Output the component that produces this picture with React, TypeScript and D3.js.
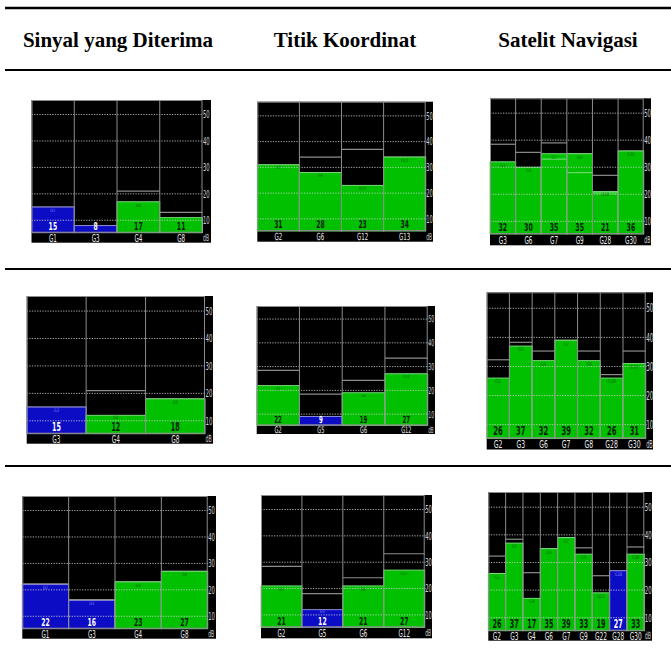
import React from "react";
import * as d3 from "d3";

// ---------- data ----------
const columnTitles = ["Sinyal yang Diterima", "Titik Koordinat", "Satelit Navigasi"];
const dbTicks = [10, 20, 30, 40, 50];
const dbDomain = [5.3, 55.5];

// row 1
const p1Sats = ["G1", "G3", "G4", "G8"];
const p1Snr = [15, 8, 17, 11];
const p1Peak = [15, 8, 21, 13];
const p1Used = [false, false, true, true];

const p2Sats = ["G2", "G6", "G12", "G13"];
const p2Snr = [31, 28, 23, 34];
const p2Peak = [31, 34, 37, 34];
const p2Used = [true, true, true, true];

const p3Sats = ["G3", "G6", "G7", "G9", "G28", "G30"];
const p3Snr = [32, 30, 35, 35, 21, 36];
const p3Peak = [38.5, 35.5, 39, 35, 27, 36];
const p3Inner = [null, null, 33, 28, 20.5, null];
const p3Used = [true, true, true, true, true, true];

// row 2
const p4Sats = ["G3", "G4", "G8"];
const p4Snr = [15, 12, 18];
const p4Peak = [15, 21, 18];
const p4Used = [false, true, true];

const p5Sats = ["G2", "G5", "G6", "G12"];
const p5Snr = [22, 9, 19, 27];
const p5Peak = [28.4, 18.4, 24.2, 33.6];
const p5Used = [true, false, true, true];

const p6Sats = ["G2", "G3", "G6", "G7", "G8", "G28", "G30"];
const p6Snr = [26, 37, 32, 39, 32, 26, 31];
const p6Peak = [32.3, 38.3, 35.3, 39, 35.3, 27.2, 35.3];
const p6Used = [true, true, true, true, true, true, true];

// row 3
const p7Sats = ["G1", "G3", "G4", "G8"];
const p7Snr = [22, 16, 23, 27];
const p7Peak = [22.3, 16.3, 23, 27];
const p7Used = [false, false, true, true];

const p8Sats = ["G2", "G5", "G6", "G12"];
const p8Snr = [21, 12, 21, 27];
const p8Peak = [28.4, 18.1, 24.1, 33.2];
const p8Used = [true, false, true, true];

const p9Sats = ["G2", "G3", "G4", "G6", "G7", "G9", "G22", "G28", "G30"];
const p9Snr = [26, 37, 17, 35, 39, 33, 19, 27, 33];
const p9Peak = [32.3, 38.4, 26.3, 35, 39, 35.3, 25.2, 27, 35.6];
const p9Used = [true, true, true, true, true, true, true, false, true];

// ---------- layout ----------
type Box = { l: number; pr: number; lr: number; t: number; b: number; sb: number };
const boxes: Box[] = [
  { l: 31.5, pr: 202.5, lr: 211, t: 100, b: 232.7, sb: 242.7 },
  { l: 257.3, pr: 425.7, lr: 433, t: 101.7, b: 231, sb: 241.7 },
  { l: 490, pr: 643.7, lr: 651, t: 98.3, b: 234, sb: 245.3 },
  { l: 26.7, pr: 205, lr: 213, t: 296, b: 433.7, sb: 443.7 },
  { l: 256.7, pr: 427.7, lr: 435, t: 306, b: 425.3, sb: 434 },
  { l: 486.7, pr: 645.7, lr: 653, t: 292.3, b: 438.3, sb: 449.5 },
  { l: 22.3, pr: 207.7, lr: 216, t: 496, b: 628.7, sb: 638.7 },
  { l: 261, pr: 424.7, lr: 432, t: 495, b: 627.3, sb: 638.3 },
  { l: 488.3, pr: 644.3, lr: 652, t: 492, b: 630.7, sb: 640.7 },
];

const panels = [
  { sats: p1Sats, snr: p1Snr, peak: p1Peak, used: p1Used, inner: null as (number | null)[] | null },
  { sats: p2Sats, snr: p2Snr, peak: p2Peak, used: p2Used, inner: null },
  { sats: p3Sats, snr: p3Snr, peak: p3Peak, used: p3Used, inner: p3Inner },
  { sats: p4Sats, snr: p4Snr, peak: p4Peak, used: p4Used, inner: null },
  { sats: p5Sats, snr: p5Snr, peak: p5Peak, used: p5Used, inner: null },
  { sats: p6Sats, snr: p6Snr, peak: p6Peak, used: p6Used, inner: null },
  { sats: p7Sats, snr: p7Snr, peak: p7Peak, used: p7Used, inner: null },
  { sats: p8Sats, snr: p8Snr, peak: p8Peak, used: p8Used, inner: null },
  { sats: p9Sats, snr: p9Snr, peak: p9Peak, used: p9Used, inner: null },
];

const GREEN = "#00c000";
const BLUE = "#0c0cc4";
const FONT = "'DejaVu Sans', 'Liberation Sans', sans-serif";

function NText({ x, y, anchor = "start", size, weight = "normal", fill, sx = 0.55, dy = "0", children }: any) {
  return (
    <text
      transform={`translate(${x},${y}) scale(${sx},1)`}
      textAnchor={anchor}
      dy={dy}
      fontSize={size}
      fontWeight={weight}
      fill={fill}
      fontFamily={FONT}
    >
      {children}
    </text>
  );
}

function Panel({ box, sats, snr, peak, used, inner }: any) {
  const { l, pr, lr, t, b, sb } = box as Box;
  const y = d3.scaleLinear().domain(dbDomain).range([b, t]);
  const x = d3.scaleBand<string>().domain(sats).range([l, pr]).padding(0);
  const bw = x.bandwidth();
  const k = (b - t) / 133;
  const fsTick = 10.5 * k;
  const fsStrip = 10 * k;
  const fsVal = 11 * k;
  const fsSmall = 4.5 * k;
  return (
    <g>
      <rect x={l} y={t} width={lr - l} height={sb - t} fill="#000" />
      {/* peak boxes */}
      {sats.map((s: string, i: number) => (
        <line key={"pk" + s} x1={x(s)!} x2={x(s)! + bw} y1={y(peak[i])} y2={y(peak[i])} stroke="#8c8c8c" strokeWidth={1.2} />
      ))}
      {/* bars */}
      {sats.map((s: string, i: number) => (
        <rect
          key={"bar" + s}
          x={x(s)!}
          y={y(snr[i])}
          width={bw}
          height={b - y(snr[i])}
          fill={used[i] ? GREEN : BLUE}
          stroke={used[i] ? "#7ad77a" : "#8a8ad8"}
          strokeWidth={1}
        />
      ))}
      {inner &&
        sats.map((s: string, i: number) =>
          inner[i] == null ? null : (
            <line key={"in" + s} x1={x(s)!} x2={x(s)! + bw} y1={y(inner[i])} y2={y(inner[i])} stroke="#6ad86a" strokeWidth={1.2} />
          )
        )}
      {/* dotted gridlines */}
      {dbTicks.map((v) => (
        <line key={"g" + v} x1={l} x2={pr + 1} y1={y(v)} y2={y(v)} stroke="#d8d8d8" strokeWidth={0.9} strokeDasharray="1.3,1.3" opacity={0.85} />
      ))}
      {/* column dividers */}
      {sats.slice(1).map((s: string) => (
        <line key={"d" + s} x1={x(s)!} x2={x(s)!} y1={t} y2={b} stroke="#8c8c8c" strokeWidth={1} />
      ))}
      <rect x={l + 0.5} y={t + 0.5} width={pr - l - 1} height={b - t - 1} fill="none" stroke="#8c8c8c" strokeWidth={1} />
      {/* tick labels */}
      {dbTicks.map((v) => (
        <NText key={"t" + v} x={pr + 0.5} y={y(v)} dy="0.36em" fill="#d0d0d0" size={fsTick} sx={0.5}>
          {v}
        </NText>
      ))}
      <NText x={pr + 0.5} y={(b + sb) / 2} dy="0.38em" fill="#d0d0d0" size={fsStrip * 0.95} sx={0.48}>
        dB
      </NText>
      {/* strip labels */}
      {sats.map((s: string) => (
        <NText key={"s" + s} x={x(s)! + bw / 2} y={(b + sb) / 2} dy="0.4em" anchor="middle" fill="#ececec" size={fsStrip} sx={0.56}>
          {s}
        </NText>
      ))}
      {/* values */}
      {sats.map((s: string, i: number) => (
        <NText key={"v" + s} x={x(s)! + bw / 2} y={b - 2.8 * k} anchor="middle" fill={used[i] ? "#051a05" : "#ffffff"} size={fsVal} weight="bold" sx={0.56}>
          {snr[i]}
        </NText>
      ))}
      {/* tiny ids at bar top */}
      {sats.map((s: string, i: number) => {
        const h = b - y(snr[i]);
        if (h < 17 * k) return null;
        const yy = y(snr[i]) + (h < 22 * k ? 3.6 : 4.8) * k;
        return (
          <NText key={"id" + s} x={x(s)! + bw / 2} y={yy} anchor="middle" fill={used[i] ? "#0a6a0a" : "#7a7aff"} size={fsSmall} sx={0.8}>
            {s}
          </NText>
        );
      })}
    </g>
  );
}

const titleX = [118, 345, 568];
const ruleY = [8, 70, 269, 466];

export default function App() {
  return (
    <svg width={671} height={660} style={{ position: "absolute", left: 0, top: 0, background: "#fff" }}>
      {ruleY.map((yy, i) => (
        <line key={"r" + i} x1={5} x2={671} y1={yy} y2={yy} stroke="#000" strokeWidth={i === 0 ? 2.5 : 2.2} />
      ))}
      {columnTitles.map((c, i) => (
        <text key={c} x={titleX[i]} y={47} textAnchor="middle" fontFamily="'Liberation Serif', 'Times New Roman', serif" fontWeight="bold" fontSize={21}>
          {c}
        </text>
      ))}
      {panels.map((p, i) => (
        <Panel key={i} box={boxes[i]} {...p} />
      ))}
    </svg>
  );
}
